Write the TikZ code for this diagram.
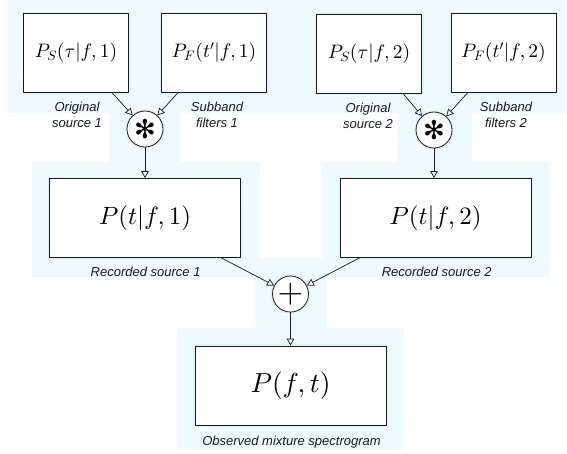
\documentclass[tikz,border=0pt]{standalone}
\usepackage{amsmath}
\usepackage{fontspec}
\setsansfont{Liberation Sans}
\newfontfamily\symfont{DejaVu Sans}
% math fonts at any size
\DeclareFontShape{OT1}{cmr}{m}{n}{<->cmr10}{}
\DeclareFontShape{OML}{cmm}{m}{it}{<->cmmi10}{}
\DeclareFontShape{OMS}{cmsy}{m}{n}{<->cmsy10}{}
\usepackage{tikz}
\usetikzlibrary{arrows.meta,calc}
\definecolor{glow}{HTML}{EFFAFE}
\definecolor{halo}{HTML}{E0F2FA}
\definecolor{ink}{HTML}{1A1A1A}

\begin{document}
\begin{tikzpicture}[x=1pt, y=-1pt, line join=round,
  pbox/.style={draw=ink, fill=white, line width=0.8pt, inner sep=0pt,
               preaction={draw=halo, line width=4pt}},
  topbox/.style={pbox, minimum width=105pt, minimum height=79pt,
                 font=\fontsize{19.5}{22}\selectfont},
  bigbox/.style={pbox, minimum width=191pt, minimum height=79pt,
                 font=\fontsize{25}{28}\selectfont},
  op/.style={circle, draw=ink, fill=white, line width=0.8pt, inner sep=0pt,
             minimum size=36pt, preaction={draw=halo, line width=4pt}},
  lbl/.style={font=\fontsize{13}{16}\selectfont\sffamily\itshape,
              text=ink, align=center, inner sep=0pt},
  conn/.style={draw=ink, line width=0.7pt,
               -{Triangle[open, length=7pt, width=7.5pt]}}]

\useasboundingbox (0,0) rectangle (567,453);

% ==================================================== the glow behind
\fill[glow] (6.5,0) rectangle (567,113);
\fill[glow] (108.5,113) rectangle (181,162);
\fill[glow] (398,113) rectangle (472,162);
\fill[glow] (32,162) rectangle (260,277);
\fill[glow] (322,162) rectangle (550,277);
\fill[glow] (255,258) rectangle (327,328);
\fill[glow] (177,328) rectangle (404,450);

% ==================================================== source and filter boxes
\node[topbox] (src1) at (76,53)    {$P_S(\tau|f,1)$};
\node[topbox] (flt1) at (214,53)   {$P_F(t'|f,1)$};
\node[topbox] (src2) at (369,53.5) {$P_S(\tau|f,2)$};
\node[topbox] (flt2) at (503.5,53) {$P_F(t'|f,2)$};

\node[lbl] (lsrc1) at (77,115)  {Original\\source 1};
\node[lbl] (lflt1) at (217,115) {Subband\\filters 1};
\node[lbl] (lsrc2) at (368,116) {Original\\source 2};
\node[lbl] (lflt2) at (506,115) {Subband\\filters 2};

% convolutions
\node[op] (conv1) at (145,129) {\fontsize{26}{26}\symfont ✻};
\node[op] (conv2) at (434,130) {\fontsize{26}{26}\symfont ✻};

% ==================================================== recorded sources
\node[bigbox] (rec1) at (145,218)   {$P(t|f,1)$};
\node[bigbox] (rec2) at (435.5,218) {$P(t|f,2)$};
\node[lbl] (lrec1) at (145.6,272) {Recorded source 1};
\node[lbl] (lrec2) at (436.7,272) {Recorded source 2};

% the mixture
\node[op] (sum) at (290.5,294) {\fontsize{33}{33}\selectfont$+$};
\node[bigbox, font=\fontsize{27.5}{30}\selectfont] (mix) at (290.5,385.5) {$P(f,t)$};
\node[lbl] (lmix) at (291.5,441.7) {Observed mixture spectrogram};

% ==================================================== connectors
\draw[conn] (src1) -- (conv1);
\draw[conn] (flt1) -- (conv1);
\draw[conn] (src2) -- (conv2);
\draw[conn] (flt2) -- (conv2);
\draw[conn] (conv1) -- (rec1);
\draw[conn] (conv2) -- (conv2 |- rec2.north);
\draw[conn] (rec1) -- (sum);
\draw[conn] (rec2) -- (sum);
\draw[conn] (sum) -- (mix);

\end{tikzpicture}
\end{document}
